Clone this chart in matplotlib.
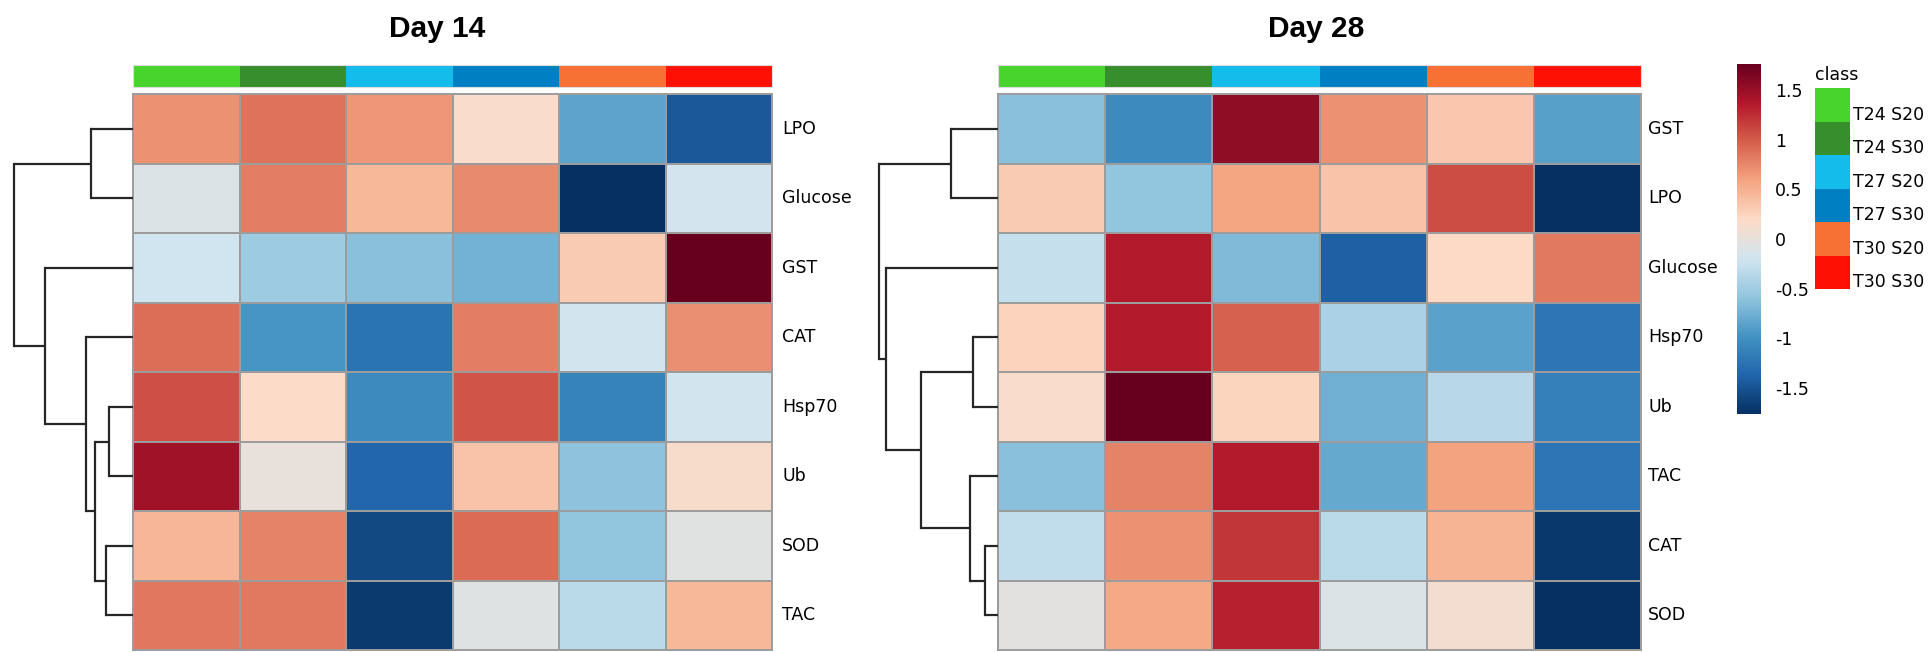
import numpy as np
import matplotlib
matplotlib.use("Agg")
import matplotlib.pyplot as plt
from matplotlib.colors import LinearSegmentedColormap, ListedColormap, Normalize

# ---------------- data ----------------
classes = ["T24 S20", "T24 S30", "T27 S20", "T27 S30", "T30 S20", "T30 S30"]
class_colors = ["#48D42C", "#378E2C", "#14BCEB", "#0080C2", "#F77034", "#FF1004"]

rows14 = ["LPO", "Glucose", "GST", "CAT", "Hsp70", "Ub", "SOD", "TAC"]
values14 = [
    [0.69, 0.87, 0.66, 0.16, -0.84, -1.47],
    [-0.10, 0.80, 0.44, 0.74, -1.75, -0.17],
    [-0.20, -0.52, -0.62, -0.74, 0.31, 1.76],
    [0.90, -0.96, -1.24, 0.80, -0.18, 0.71],
    [1.06, 0.19, -1.05, 1.04, -1.12, -0.18],
    [1.46, 0.00, -1.36, 0.36, -0.60, 0.15],
    [0.46, 0.78, -1.57, 0.92, -0.59, -0.06],
    [0.85, 0.83, -1.68, -0.07, -0.34, 0.45],
]

rows28 = ["GST", "LPO", "Glucose", "Hsp70", "Ub", "TAC", "CAT", "SOD"]
values28 = [
    [-0.62, -1.05, 1.54, 0.69, 0.33, -0.88],
    [0.31, -0.58, 0.58, 0.37, 1.08, -1.75],
    [-0.27, 1.36, -0.67, -1.41, 0.20, 0.83],
    [0.25, 1.35, 0.97, -0.43, -0.86, -1.23],
    [0.16, 1.76, 0.24, -0.75, -0.35, -1.14],
    [-0.62, 0.78, 1.36, -0.80, 0.60, -1.23],
    [-0.30, 0.70, 1.20, -0.34, 0.47, -1.70],
    [-0.03, 0.55, 1.31, -0.10, 0.10, -1.75],
]

# dendrogram merges: (child_a, child_b, height); leaves 0..7 in display order
merges14 = [(0, 1, 42), (4, 5, 24), (6, 7, 27), (9, 10, 38), (3, 11, 47), (2, 12, 88), (8, 13, 119)]
merges28 = [(0, 1, 47), (3, 4, 25), (6, 7, 13), (5, 10, 28), (9, 11, 77), (2, 12, 112), (8, 13, 119)]

titles = ["Day 14", "Day 28"]
cbar_ticks = [1.5, 1, 0.5, 0, -0.5, -1, -1.5]
cbar_labels = ["1.5", "1", "0.5", "0", "-0.5", "-1", "-1.5"]
vlim = 1.76

# ---------------- styling ----------------
W, H = 1928, 652
fig = plt.figure(figsize=(W / 100, H / 100), dpi=100)

def ax_px(x0, y0, x1, y1):
    return fig.add_axes([x0 / W, 1 - y1 / H, (x1 - x0) / W, (y1 - y0) / H])

brewer = ["#67001F", "#B2182B", "#D6604D", "#F4A582", "#FDDBC7",
          "#D1E5F0", "#92C5DE", "#4393C3", "#2166AC", "#053061"][::-1]
cmap = LinearSegmentedColormap.from_list("rdbu10", brewer, N=256)
norm = Normalize(-vlim, vlim)
label_font = dict(family="DejaVu Sans", size=12.5)

panels = [
    dict(rows=rows14, vals=values14, merges=merges14, title=titles[0],
         hx0=133, hx1=772, dx0=0, lab_x=782, tx=437),
    dict(rows=rows28, vals=values28, merges=merges28, title=titles[1],
         hx0=998, hx1=1641, dx0=865, lab_x=1648, tx=1316),
]
hy0, hy1 = 94, 650

for p in panels:
    vals = np.array(p["vals"])
    nr, nc = vals.shape
    # heatmap
    ax = ax_px(p["hx0"], hy0, p["hx1"], hy1)
    ax.pcolormesh(np.arange(nc + 1), np.arange(nr + 1), vals, cmap=cmap, norm=norm,
                  edgecolors="#9C9C9C", linewidth=1.4)
    ax.set_xlim(0, nc)
    ax.set_ylim(nr, 0)
    ax.set_xticks([])
    ax.set_yticks([])
    for s in ax.spines.values():
        s.set_color("#9C9C9C")
        s.set_linewidth(1.4)
    for i, r in enumerate(p["rows"]):
        fig.text(p["lab_x"] / W, 1 - (hy0 + (i + 0.5) * (hy1 - hy0) / nr) / H, r,
                 ha="left", va="center", color="black", **label_font)
    # class bar
    cb = ax_px(p["hx0"], 65, p["hx1"], 87)
    cb.pcolormesh(np.arange(nc + 1), [0, 1], np.arange(nc)[None, :],
                  cmap=ListedColormap(class_colors), vmin=-0.5, vmax=nc - 0.5)
    cb.set_xlim(0, nc)
    cb.set_xticks([])
    cb.set_yticks([])
    for s in cb.spines.values():
        s.set_color("#DDDDDD")
        s.set_linewidth(0.8)
    # dendrogram
    dax = ax_px(p["dx0"], hy0, p["hx0"], hy1)
    dax.set_xlim(p["hx0"] - p["dx0"], 0)
    dax.set_ylim(nr, 0)
    dax.axis("off")
    ypos = {i: i + 0.5 for i in range(nr)}
    hpos = {i: 0.0 for i in range(nr)}
    for k, (a, b, h) in enumerate(p["merges"]):
        node = nr + k
        for c in (a, b):
            dax.plot([hpos[c], h], [ypos[c], ypos[c]], color="#262626", lw=1.6,
                     solid_capstyle="butt")
        dax.plot([h, h], [ypos[a], ypos[b]], color="#262626", lw=1.6,
                 solid_capstyle="projecting")
        ypos[node] = (ypos[a] + ypos[b]) / 2
        hpos[node] = h
    # title
    fig.text(p["tx"] / W, 1 - 37 / H, p["title"], ha="center", va="baseline",
             family="Liberation Sans", weight="bold", size=21.5)

# colorbar
cax = ax_px(1737, 64, 1761, 414)
sm = plt.cm.ScalarMappable(norm=norm, cmap=cmap)
cbar = fig.colorbar(sm, cax=cax)
cbar.outline.set_visible(False)
cbar.set_ticks(cbar_ticks)
cbar.set_ticklabels(cbar_labels)
cax.tick_params(length=0, pad=10, labelsize=12.5)
for t in cax.get_yticklabels():
    t.set_family("DejaVu Sans")

# class legend
lax = ax_px(1815, 88, 1850, 289)
lax.barh(np.arange(len(classes)), [1] * len(classes), height=1.0, color=class_colors)
lax.set_xlim(0, 1)
lax.set_ylim(len(classes) - 0.5, -0.5)
lax.axis("off")
sw = (289 - 88) / len(classes)
for i, c in enumerate(classes):
    fig.text(1853 / W, 1 - (88 + (i + 1) * sw - 2) / H, c, ha="left", va="baseline",
             **label_font)
fig.text(1815 / W, 1 - 80 / H, "class", ha="left", va="baseline", **label_font)

fig.savefig("out.png", dpi=100)
